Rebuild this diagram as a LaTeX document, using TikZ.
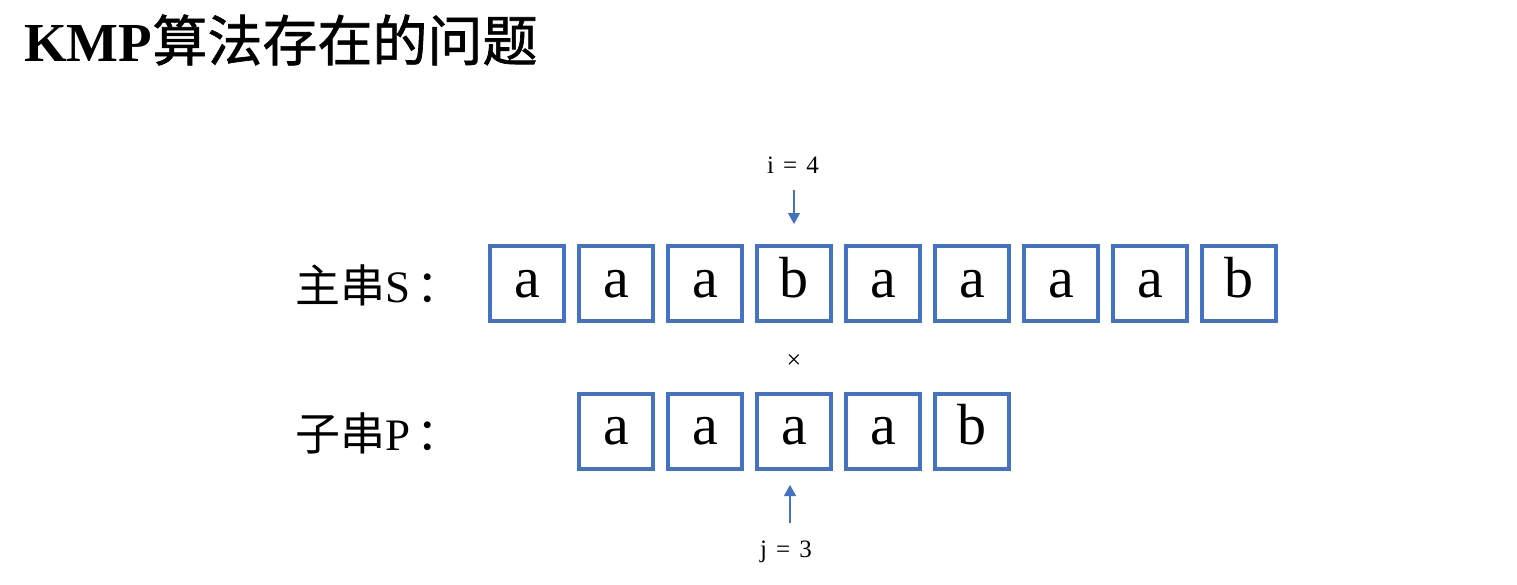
\documentclass[tikz,border=0pt]{standalone}
\usepackage{fontspec}
\setmainfont{Liberation Serif}
\newfontfamily\cjk{Noto Sans CJK SC}
\newfontfamily\cjkt{Noto Sans CJK SC}[FakeBold=1.2]
\usetikzlibrary{arrows.meta}
\definecolor{boxblue}{HTML}{4472C4}
\begin{document}
\begin{tikzpicture}[x=1pt,y=-1pt,
  cell/.style={draw=boxblue,line width=4pt,minimum width=74pt,minimum height=75pt,inner sep=0pt,text height=27pt,text depth=0pt,font=\fontsize{58}{60}\selectfont},
  lbl/.style={inner sep=0pt,anchor=base west,font=\fontsize{45}{50}\selectfont},
  idx/.style={inner sep=0pt,anchor=base,font=\fontsize{25}{28}\selectfont},
  ptr/.style={draw=boxblue,line width=1.4pt,-{Triangle[length=11pt,width=12pt]}}]
\useasboundingbox (0,0) rectangle (1517,584);
\fill[white] (0,0) rectangle (1517,584);
% title
\node[inner sep=0pt,anchor=base west,font=\fontsize{55}{58}\selectfont] (title) at (24,61) {\textbf{KMP}{\cjkt 算法存在的问题}};
% labels
\node[lbl] (lS) at (295,302) {{\cjk 主串}S\hspace{6pt}{\cjk ：}};
\node[lbl] (lP) at (295,450) {{\cjk 子串}P\hspace{6pt}{\cjk ：}};
% main string S
\foreach \c [count=\k] in {a,a,a,b,a,a,a,a,b}{
  \node[cell] (s\k) at ({527+89*(\k-1)},283.5) {\c};
}
% pattern P
\foreach \c [count=\k] in {a,a,a,a,b}{
  \node[cell] (p\k) at ({616+89*(\k-1)},431) {\c};
}
% pointers
\node[idx] (i) at (793,173) {i\hspace{9pt}=\hspace{9pt}4};
\coordinate (itop) at (794,190);
\draw[ptr] (itop) -- (794,224);
\node[idx] (j) at (786,557) {j\hspace{9pt}=\hspace{9pt}3};
\coordinate (jbot) at (790,523);
\draw[ptr] (jbot) -- (790,485);
\node[inner sep=0pt,font=\fontsize{26}{28}\selectfont] (x) at (794,362) {×};
\end{tikzpicture}
\end{document}
